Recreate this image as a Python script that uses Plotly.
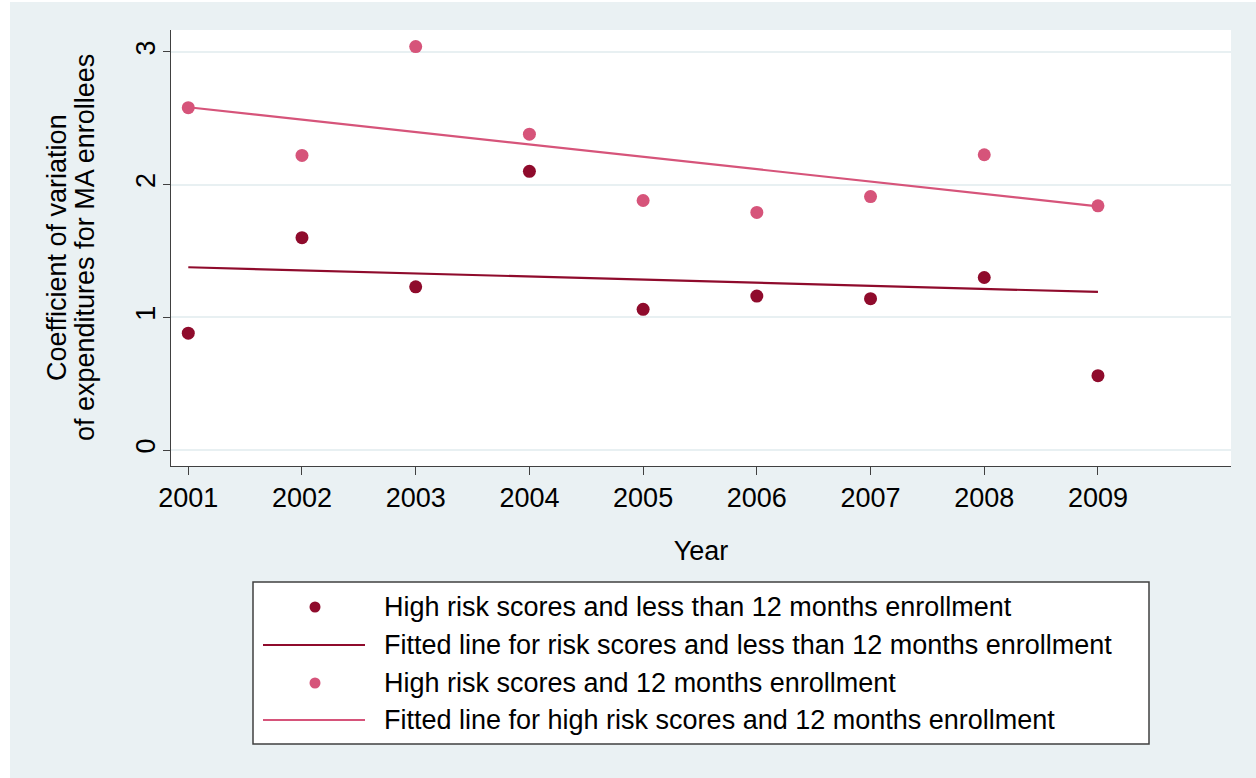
import plotly.graph_objects as go

# Data
years = [2001, 2002, 2003, 2004, 2005, 2006, 2007, 2008, 2009]
cv_short_enroll = [0.88, 1.60, 1.23, 2.10, 1.06, 1.16, 1.14, 1.30, 0.56]
cv_full_enroll = [2.58, 2.22, 3.04, 2.38, 1.88, 1.79, 1.91, 2.225, 1.84]
fit_years = [2001, 2009]
fit_short_enroll = [1.377, 1.191]
fit_full_enroll = [2.583, 1.836]
y_ticks = [0, 1, 2, 3]

legend_labels = [
    "High risk scores and less than 12 months enrollment",
    "Fitted line for risk scores and less than 12 months enrollment",
    "High risk scores and 12 months enrollment",
    "Fitted line for high risk scores and 12 months enrollment",
]

DARK = "#8f0b2c"
ROSE = "#d6547a"
BG = "#eaf1f3"
FONT = "Liberation Sans, Arial, sans-serif"
FS = 27

W, H = 1256, 778
L, R, T, B = 171, 1231, 30, 466  # plot area in pixels


def px(x):
    return (x - L) / (R - L)


def py(y):
    return (B - y) / (B - T)


fig = go.Figure()
fig.add_trace(go.Scatter(x=years, y=cv_short_enroll, mode="markers",
                         marker=dict(color=DARK, size=13), showlegend=False))
fig.add_trace(go.Scatter(x=fit_years, y=fit_short_enroll, mode="lines",
                         line=dict(color=DARK, width=2.2), showlegend=False))
fig.add_trace(go.Scatter(x=years, y=cv_full_enroll, mode="markers",
                         marker=dict(color=ROSE, size=13), showlegend=False))
fig.add_trace(go.Scatter(x=fit_years, y=fit_full_enroll, mode="lines",
                         line=dict(color=ROSE, width=2.2), showlegend=False))

shapes = []
annotations = []

# thin white margins at the top and left edge of the page
shapes.append(dict(type="rect", xref="paper", yref="paper", layer="above",
                   x0=px(0), x1=px(W), y0=py(2), y1=py(0),
                   fillcolor="white", line=dict(width=0)))
shapes.append(dict(type="rect", xref="paper", yref="paper", layer="above",
                   x0=px(0), x1=px(10), y0=py(H), y1=py(0),
                   fillcolor="white", line=dict(width=0)))

# legend box
shapes.append(dict(type="rect", xref="paper", yref="paper",
                   x0=px(253), x1=px(1149), y0=py(744), y1=py(582),
                   fillcolor="white", line=dict(color="#404040", width=1.5)))
row_y = [607, 645, 683, 720]
kinds = [("marker", DARK), ("line", DARK), ("marker", ROSE), ("line", ROSE)]
for (kind, col), yy, lab in zip(kinds, row_y, legend_labels):
    if kind == "marker":
        shapes.append(dict(type="circle", xref="paper", yref="paper",
                           x0=px(315 - 5.5), x1=px(315 + 5.5),
                           y0=py(yy + 5.5), y1=py(yy - 5.5),
                           fillcolor=col, line=dict(width=0)))
    else:
        shapes.append(dict(type="line", xref="paper", yref="paper",
                           x0=px(263), x1=px(365), y0=py(yy), y1=py(yy),
                           line=dict(color=col, width=2.2)))
    annotations.append(dict(xref="paper", yref="paper", x=px(382), y=py(yy),
                            xanchor="left", yanchor="middle", showarrow=False,
                            text=lab, font=dict(family=FONT, size=FS, color="black")))

# two-line y axis title
annotations.append(dict(xref="paper", yref="paper", x=px(57), y=0.5,
                        xanchor="center", yanchor="middle", showarrow=False, textangle=-90,
                        text="Coefficient of variation",
                        font=dict(family=FONT, size=FS, color="black")))
annotations.append(dict(xref="paper", yref="paper", x=px(85), y=0.5,
                        xanchor="center", yanchor="middle", showarrow=False, textangle=-90,
                        text="of expenditures for MA enrollees",
                        font=dict(family=FONT, size=FS, color="black")))

fig.update_layout(
    width=W, height=H,
    margin=dict(l=L, r=W - R, t=T, b=H - B, pad=0),
    paper_bgcolor=BG, plot_bgcolor="white",
    font=dict(family=FONT, size=FS, color="black"),
    showlegend=False,
    shapes=shapes, annotations=annotations,
    xaxis=dict(range=[2000.848, 2010.17], tickvals=years, ticktext=[str(y) for y in years],
               showgrid=False, zeroline=False, showline=True, linecolor="#404040", linewidth=1,
               ticks="outside", ticklen=8, tickcolor="#404040", tickwidth=1,
               tickfont=dict(family=FONT, size=FS, color="black"),
               title=dict(text="Year", font=dict(family=FONT, size=FS, color="black"), standoff=28)),
    yaxis=dict(range=[-0.1206, 3.165], tickvals=y_ticks, tickangle=-90,
               showgrid=True, gridcolor="#e8f0f2", gridwidth=1.5, zeroline=False,
               showline=True, linecolor="#404040", linewidth=1,
               ticks="outside", ticklen=7, tickcolor="#404040", tickwidth=1,
               ticklabelstandoff=-3,
               tickfont=dict(family=FONT, size=FS, color="black")),
)

fig.write_html("out.html")
